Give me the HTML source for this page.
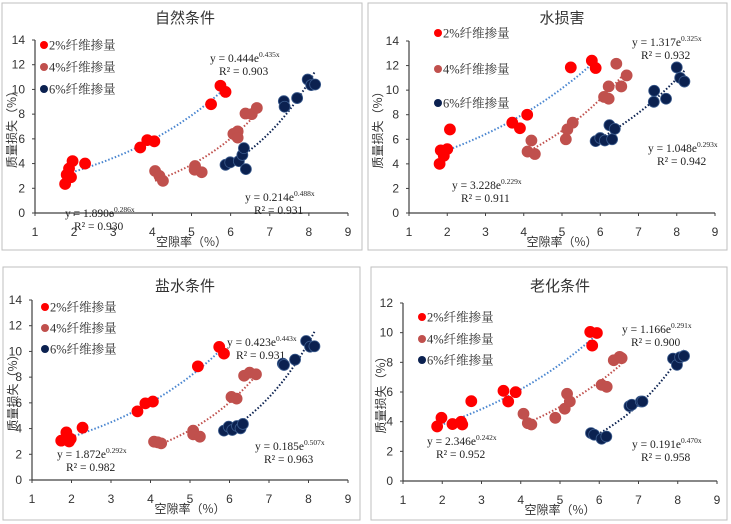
<!DOCTYPE html>
<html><head><meta charset="utf-8">
<style>
html,body{margin:0;padding:0;background:#fff;}
svg{display:block;font-family:"Liberation Serif","Noto Serif CJK SC","Noto Sans CJK SC",serif;}
</style></head>
<body>
<svg id="chart" width="731" height="524" viewBox="0 0 731 524" xmlns="http://www.w3.org/2000/svg"></svg>
<script>
// ===== Panel 1: 自然条件 =====
const natRedX = [1.77,1.81,1.87,1.92,1.96,2.28,3.69,3.87,4.05,5.5,5.74,5.87];
const natRedY = [2.35,3.1,3.6,2.9,4.2,4.0,5.3,5.9,5.8,8.8,10.3,9.8];
const natPinkX = [4.07,4.18,4.27,5.09,5.08,5.26,6.07,6.18,6.18,6.38,6.54,6.67];
const natPinkY = [3.4,3.0,2.6,3.8,3.5,3.3,6.4,6.6,6.1,8.05,8.0,8.5];
const natNavyX = [5.87,5.99,6.21,6.3,6.34,6.39,7.36,7.38,7.7,7.97,8.06,8.16];
const natNavyY = [3.9,4.1,4.2,4.7,5.25,3.55,9.05,8.6,9.3,10.8,10.35,10.4];
// ===== Panel 2: 水损害 =====
const watRedX = [1.8,1.83,1.91,2.0,2.07,3.7,3.9,4.09,5.23,5.78,5.88];
const watRedY = [4.0,5.1,4.65,5.2,6.8,7.35,6.9,8.0,11.85,12.4,11.8];
const watPinkX = [4.1,4.2,4.29,5.1,5.14,5.28,6.1,6.22,6.22,6.42,6.55,6.69];
const watPinkY = [5.0,5.9,4.8,6.0,6.8,7.35,9.45,9.3,10.3,12.15,10.3,11.2];
const watNavyX = [5.88,6.0,6.12,6.24,6.31,6.38,7.4,7.41,7.72,8.0,8.09,8.2];
const watNavyY = [5.85,6.1,5.9,7.15,6.0,6.85,9.05,9.95,9.3,11.85,11.0,10.7];
// ===== Panel 3: 盐水条件 =====
const salRedX = [1.74,1.87,1.87,1.94,1.98,2.28,3.67,3.87,4.06,5.2,5.74,5.86];
const salRedY = [3.06,3.7,3.3,3.0,3.2,4.07,5.34,5.96,6.1,8.84,10.35,9.83];
const salPinkX = [4.09,4.18,4.27,5.08,5.08,5.25,6.05,6.18,6.37,6.51,6.67];
const salPinkY = [2.98,2.93,2.85,3.84,3.55,3.37,6.46,6.33,8.11,8.35,8.22];
const salNavyX = [5.86,5.98,6.07,6.19,6.28,6.34,7.35,7.38,7.66,7.94,8.04,8.15];
const salNavyY = [3.84,4.15,3.89,4.2,4.02,4.36,9.05,8.95,9.36,10.81,10.37,10.4];
// ===== Panel 4: 老化条件 =====
const ageRedX = [1.87,1.98,2.26,2.48,2.51,2.74,3.56,3.68,3.87,5.77,5.82,5.94];
const ageRedY = [3.68,4.26,3.84,3.99,3.81,5.38,6.08,5.36,5.99,10.05,9.13,9.98];
const agePinkX = [4.07,4.18,4.27,4.88,5.12,5.18,5.25,6.06,6.19,6.37,6.52,6.57];
const agePinkY = [4.53,3.9,3.81,4.26,4.87,5.88,5.36,6.48,6.35,8.14,8.37,8.28];
const ageNavyX = [5.79,5.87,6.06,6.18,6.77,6.83,7.06,7.1,7.88,7.98,8.06,8.16];
const ageNavyY = [3.23,3.12,2.85,3.0,5.05,5.14,5.36,5.36,8.25,7.83,8.34,8.43];
// trend coefficients [a, b]
const natFits = [[1.890,0.286],[0.444,0.435],[0.214,0.488]];
const watFits = [[3.228,0.229],[1.317,0.325],[1.048,0.293]];
const salFits = [[1.872,0.292],[0.423,0.443],[0.185,0.507]];
const ageFits = [[2.346,0.242],[1.166,0.291],[0.191,0.470]];
const natR2 = ["0.930","0.903","0.931"];
const watR2 = ["0.911","0.932","0.942"];
const salR2 = ["0.982","0.931","0.963"];
const ageR2 = ["0.952","0.900","0.958"];
const xTicks = [1,2,3,4,5,6,7,8,9];
const yTicks14 = [0,2,4,6,8,10,12,14];
const yTicks12 = [0,2,4,6,8,10,12];
const legendLabels = ["2%纤维掺量","4%纤维掺量","6%纤维掺量"];

const NS = "http://www.w3.org/2000/svg";
const svg = document.getElementById("chart");
const ptColors = ["#ff0000","#c0504d","#0b2150"];
const lineColors = ["#4a86d0","#c0504d","#0b2150"];
const seriesNames = ["fiber-2pct","fiber-4pct","fiber-6pct"];

function mk(tag, attrs, parent){
  const e = document.createElementNS(NS, tag);
  for (const k in attrs) e.setAttribute(k, attrs[k]);
  (parent||svg).appendChild(e);
  return e;
}

function panel(p){
  const g = mk("g", {});
  
  
  const frame = mk("rect", {x:p.box[0], y:p.box[1], width:p.box[2], height:p.box[3], fill:"#fff", stroke:"#bfbfbf", "stroke-width":1}, g);
  
  
  const sx = v => p.x0 + (v - 1) / 8 * (p.x1 - p.x0);
  const sy = v => p.y0 - v / p.ymax * (p.y0 - p.y1);
  // axes
  const ax = mk("line", {x1:p.x0, y1:p.y0, x2:p.x1, y2:p.y0, stroke:"#404040", "stroke-width":1.2}, g);
  
  
  const ay = mk("line", {x1:p.x0, y1:p.y0, x2:p.x0, y2:p.y1, stroke:"#404040", "stroke-width":1.2}, g);
  
  
  xTicks.forEach(t => {
    const l = mk("line", {x1:sx(t), y1:p.y0, x2:sx(t), y2:p.y0+3, stroke:"#404040"}, g);
    const tx = mk("text", {x:sx(t), y:p.y0+23, "font-size":12, "text-anchor":"middle", fill:"#333", "font-family":"Liberation Sans, sans-serif"}, g);
    tx.textContent = t;
    
    
  });
  p.yt.forEach(t => {
    mk("line", {x1:p.x0-3, y1:sy(t), x2:p.x0, y2:sy(t), stroke:"#404040"}, g);
    const tx = mk("text", {x:p.x0-10, y:sy(t)+4, "font-size":12, "text-anchor":"end", fill:"#333", "font-family":"Liberation Sans, sans-serif"}, g);
    tx.textContent = t;
    
    
  });
  const title = mk("text", {x:p.tx, y:p.ty, "font-size":15, "text-anchor":"middle", fill:"#333", "font-family":"Noto Sans CJK SC, sans-serif"}, g);
  title.textContent = p.title;
  
  
  const xt = mk("text", {x:(p.x0+p.x1)/2, y:p.y0+33, "font-size":12, "text-anchor":"middle", fill:"#333", "font-family":"Noto Sans CJK SC, sans-serif"}, g);
  xt.textContent = "空隙率（%）";
  
  
  const ycy = (p.y0+p.y1)/2;
  const yt = mk("text", {x:p.box[0]+14, y:ycy, "font-size":12, "text-anchor":"middle", fill:"#333", transform:"rotate(-90 "+(p.box[0]+14)+" "+ycy+")", "font-family":"Noto Sans CJK SC, sans-serif"}, g);
  yt.textContent = "质量损失（%）";
  
  
  // series
  for (let s = 0; s < 3; s++){
    const xs = p.xs[s], ys = p.ys[s], f = p.fits[s];
    const lo = Math.min(...xs), hi = Math.max(...xs);
    let d = "";
    for (let i = 0; i <= 40; i++){
      const xv = lo + (hi - lo) * i / 40;
      d += (i ? "L" : "M") + sx(xv).toFixed(1) + "," + sy(f[0]*Math.exp(f[1]*xv)).toFixed(1);
    }
    const tl = mk("path", {d:d, fill:"none", stroke:lineColors[s], "stroke-width":2, "stroke-dasharray":"1.5 2"}, g);
    
    
    xs.forEach((xv, i) => {
      const c = mk("circle", {cx:sx(xv), cy:sy(ys[i]), r:5.5, fill:ptColors[s], stroke: s==2 ? "#3a5a8c" : ptColors[s], "stroke-width":0.8}, g);
      
      
    });
    // legend
    const lm = mk("circle", {cx:p.lx, cy:p.ly[s], r:4, fill:ptColors[s]}, g);
    
    
    const lt = mk("text", {x:p.lx+5, y:p.ly[s]+4.5, "font-size":12.5, fill:"#333"}, g);
    lt.textContent = legendLabels[s];
    
    
    // equation
    const e = p.eq[s];
    const et = mk("text", {x:e[0], y:e[1], "font-size":11.5, fill:"#222"}, g);
    
    
    const t1 = mk("tspan", {}, et);
    t1.textContent = "y = " + f[0].toFixed(3) + "e";
    const t2 = mk("tspan", {"font-size":7.5, dy:-5}, et);
    t2.textContent = f[1].toFixed(3).replace(/^0/, "0") + "x";
    const rt = mk("text", {x:e[0]+9, y:e[1]+13, "font-size":11.5, fill:"#222"}, g);
    rt.textContent = "R² = " + p.r2[s];
    
    
  }
}

panel({id:"natural", title:"自然条件", box:[2,3,360,247], x0:35, x1:348, y0:213, y1:40, ymax:14, yt:yTicks14, tx:185, ty:23,
  xs:[natRedX,natPinkX,natNavyX], ys:[natRedY,natPinkY,natNavyY], fits:natFits, r2:natR2,
  lx:44, ly:[45,67,89], eq:[[65,217],[210,62],[245,201]]});
panel({id:"water", title:"水损害", box:[368,3,359,247], x0:409, x1:715, y0:213, y1:41, ymax:14, yt:yTicks14, tx:562, ty:23,
  xs:[watRedX,watPinkX,watNavyX], ys:[watRedY,watPinkY,watNavyY], fits:watFits, r2:watR2,
  lx:438, ly:[33,69,103], eq:[[452,189],[632,46],[648,152]]});
panel({id:"saltwater", title:"盐水条件", box:[3,267,357,253], x0:32, x1:348, y0:480, y1:300, ymax:14, yt:yTicks14, tx:185, ty:291,
  xs:[salRedX,salPinkX,salNavyX], ys:[salRedY,salPinkY,salNavyY], fits:salFits, r2:salR2,
  lx:45, ly:[307,328,349], eq:[[57,458],[227,346],[255,450]]});
panel({id:"aging", title:"老化条件", box:[371,267,356,253], x0:403, x1:717, y0:481, y1:303, ymax:12, yt:yTicks12, tx:560, ty:291,
  xs:[ageRedX,agePinkX,ageNavyX], ys:[ageRedY,agePinkY,ageNavyY], fits:ageFits, r2:ageR2,
  lx:422, ly:[317,339,360], eq:[[427,445],[622,333],[632,448]]});
</script>
</body></html>
